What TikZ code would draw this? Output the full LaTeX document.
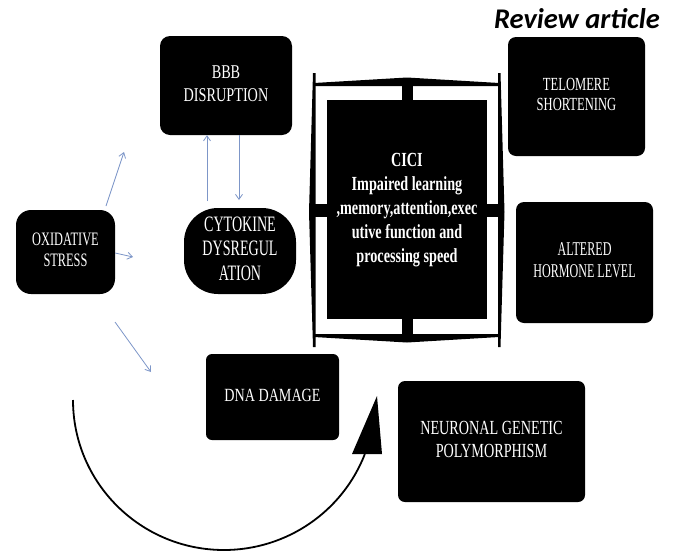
\documentclass[tikz,border=0pt]{standalone}
\usepackage{fontspec}
\usepackage{graphicx}
\setmainfont{Liberation Serif}
\newfontfamily\revfont{Carlito}
\usetikzlibrary{arrows.meta}
\definecolor{arrcol}{RGB}{125,150,200}
\newcommand{\bt}[4]{\scalebox{#1}[1]{\fontsize{#2pt}{#3pt}\selectfont\begin{tabular}{@{}c@{}}#4\end{tabular}}}
\tikzset{
  blk/.style={fill=black,text=white,inner sep=0pt,draw=none},
  thinarrow/.style={draw=arrcol,line width=0.8pt,-{Straight Barb[length=5pt,width=7pt]}},
  framepart/.style={fill=black,draw=none},
}
\begin{document}
\begin{tikzpicture}[x=1pt,y=-1pt]
\useasboundingbox (0,0) rectangle (678,552);
% title
\node[anchor=base east,inner sep=0pt,font=\revfont\fontsize{28.5pt}{32pt}\selectfont\bfseries\itshape] (title) at (660,28) {Review article};
% boxes
\node[blk,rounded corners=10pt,minimum width=132pt,minimum height=99pt] (bbb) at (226,85.5)
  {\bt{0.73}{19.5}{23}{BBB\\DISRUPTION}};
\node[blk,rounded corners=8pt,minimum width=137pt,minimum height=119pt] (tel) at (576.5,96.5)
  {\bt{0.68}{18.5}{20}{TELOMERE\\SHORTENING}};
\node[blk,rounded corners=8pt,minimum width=137pt,minimum height=121pt] (alt) at (584.5,262.5)
  {\bt{0.62}{19.5}{22}{ALTERED\\HORMONE LEVEL}};
\node[blk,rounded corners=15pt,minimum width=99pt,minimum height=84pt] (oxi) at (65.5,252)
  {\bt{0.65}{19}{21}{OXIDATIVE\\STRESS}};
\node[blk,rounded corners=34pt,minimum width=112pt,minimum height=86pt] (cyt) at (240,251)
  {\bt{0.64}{22}{24.5}{CYTOKINE\\DYSREGUL\\ATION}};
\node[blk,rounded corners=6pt,minimum width=133pt,minimum height=86pt] (dna) at (272.5,397)
  {\bt{0.76}{18.6}{22}{DNA DAMAGE}};
\node[blk,rounded corners=7pt,minimum width=187pt,minimum height=121pt] (neu) at (491.5,441.5)
  {\bt{0.71}{20}{23}{NEURONAL GENETIC\\POLYMORPHISM}};
% CICI frame
\fill[framepart] (313,73) -- (315.5,73) -- (315.5,347) -- (313,347) -- (309,212) -- cycle;
\fill[framepart] (498,73) -- (500.5,73) -- (504.5,212) -- (500.5,347) -- (498,347) -- cycle;
\fill[framepart] (314,83) -- (407,77.5) -- (499,83) -- (499,86) -- (314,86) -- cycle;
\fill[framepart] (314,334) -- (499,334) -- (499,337) -- (407,342.5) -- (314,337) -- cycle;
\fill[framepart] (402,85) rectangle (412.5,101);
\fill[framepart] (402,318) rectangle (412.5,335);
\fill[framepart] (314,204) rectangle (328,217);
\fill[framepart] (486,204) rectangle (499,217);
\node[blk,minimum width=160pt,minimum height=219pt] (cici) at (407,209.5)
  {\bt{0.71}{20}{24}{\bfseries CICI\\\bfseries Impaired learning\\\bfseries ,memory,attention,exec\\\bfseries utive function and\\\bfseries processing speed}};
% thin arrows
\coordinate (o1s) at (106,206);
\coordinate (o1e) at (124,152);
\coordinate (o2e) at (133,257);
\coordinate (o3s) at (115,322);
\coordinate (o3e) at (151,372);
\coordinate (c1s) at (207,201);
\coordinate (b1x) at (239,0);
\coordinate (c1x) at (239,200);
\draw[thinarrow] (o1s) -- (o1e);
\draw[thinarrow] (oxi.east |- 0,253) -- (o2e);
\draw[thinarrow] (o3s) -- (o3e);
\draw[thinarrow] (c1s) -- (c1s |- bbb.south);
\draw[thinarrow] (b1x |- bbb.south) -- (c1x);
% big curved arrow
\coordinate (arcs) at (73,400);
\coordinate (tipa) at (377,396);
\coordinate (tipl) at (352,454);
\coordinate (tipr) at (382,454);
\draw[line width=1.8pt] (arcs) arc[start angle=180,end angle=21.1,x radius=151,y radius=150];
\fill (tipa) -- (tipl) -- (tipr) -- cycle;
\end{tikzpicture}
\end{document}
